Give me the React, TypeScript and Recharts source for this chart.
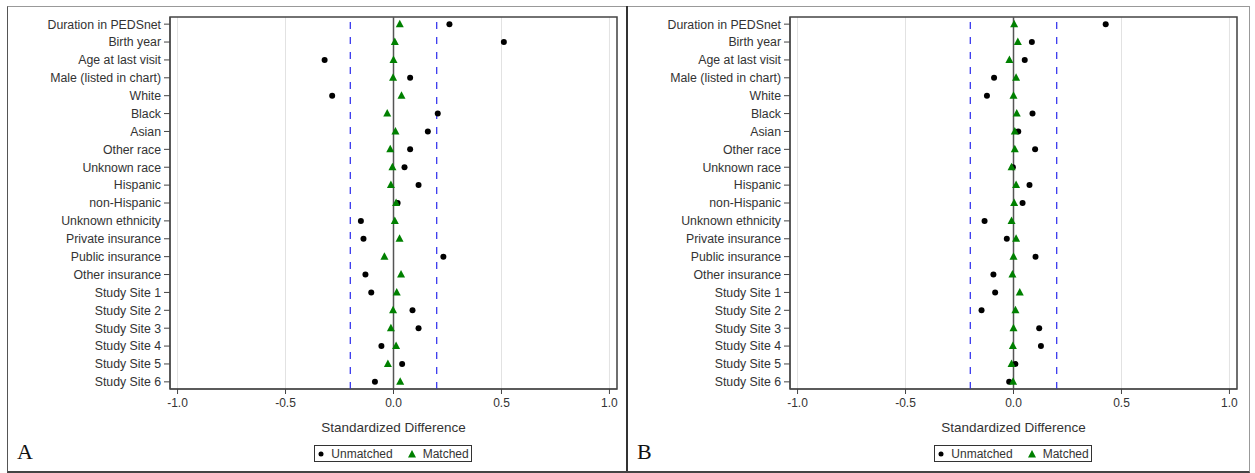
import React from 'react'
import {
  ScatterChart,
  Scatter,
  XAxis,
  YAxis,
  CartesianGrid,
  ReferenceLine,
  ReferenceArea,
} from 'recharts'

const categories = [
  'Duration in PEDSnet',
  'Birth year',
  'Age at last visit',
  'Male (listed in chart)',
  'White',
  'Black',
  'Asian',
  'Other race',
  'Unknown race',
  'Hispanic',
  'non-Hispanic',
  'Unknown ethnicity',
  'Private insurance',
  'Public insurance',
  'Other insurance',
  'Study Site 1',
  'Study Site 2',
  'Study Site 3',
  'Study Site 4',
  'Study Site 5',
  'Study Site 6',
]

// Panel A (before matching vs after)
const unmatchedA = [0.259, 0.511, -0.319, 0.077, -0.284, 0.205, 0.159, 0.077, 0.051, 0.116, 0.019, -0.151, -0.139, 0.231, -0.13, -0.103, 0.088, 0.116, -0.056, 0.04, -0.086]
const matchedA = [0.029, 0.006, 0.0, -0.002, 0.037, -0.029, 0.009, -0.015, -0.005, -0.012, 0.012, 0.006, 0.028, -0.042, 0.035, 0.015, -0.002, -0.012, 0.012, -0.026, 0.031]

// Panel B
const unmatchedB = [0.427, 0.085, 0.052, -0.09, -0.123, 0.088, 0.022, 0.1, -0.003, 0.074, 0.042, -0.134, -0.031, 0.102, -0.093, -0.085, -0.148, 0.119, 0.127, 0.009, -0.02]
const matchedB = [0.003, 0.02, -0.019, 0.012, 0.0, 0.015, 0.006, 0.006, -0.009, 0.012, 0.003, -0.009, 0.012, 0.0, -0.005, 0.029, 0.009, 0.0, -0.003, -0.009, -0.002]

const xTicks = [-1, -0.5, 0, 0.5, 1]
const threshold = 0.2

const FONT = '"Liberation Sans", Arial, sans-serif'
const TEXT = '#333'
const GREEN = '#008000'

const toRows = (vals: number[]) => vals.map((x, i) => ({ x, y: i }))

const Dot = (props: any) => {
  const { cx, cy } = props
  if (cx == null || cy == null) return null
  return <circle cx={cx} cy={cy} r={3} fill="#000" />
}

const Tri = (props: any) => {
  const { cx, cy } = props
  if (cx == null || cy == null) return null
  return <path d={`M${cx},${cy - 4.5} L${cx + 4},${cy + 3} L${cx - 4},${cy + 3} Z`} fill={GREEN} />
}

function Panel({ unmatched, matched, letter, left }: { unmatched: number[]; matched: number[]; letter: string; left: number }) {
  return (
    <div style={{ position: 'absolute', left, top: 0, width: 627, height: 473 }}>
      <ScatterChart width={627} height={473} margin={{ top: 17, right: 10, bottom: 54, left: 0 }}>
        <CartesianGrid horizontal={false} stroke="#e2e2e2" />
        <XAxis
          type="number"
          dataKey="x"
          domain={[-1.035, 1.035]}
          ticks={xTicks}
          allowDataOverflow
          tickFormatter={(v: number) => v.toFixed(1)}
          tick={{ fontSize: 12, fill: TEXT, fontFamily: FONT }}
          tickSize={5}
          tickMargin={4}
          stroke="#444"
          height={30}
        />
        <YAxis
          type="number"
          dataKey="y"
          domain={[-0.4, 20.4]}
          reversed
          allowDataOverflow
          ticks={categories.map((_, i) => i)}
          interval={0}
          tickFormatter={(i: number) => categories[i] ?? ''}
          tick={{ fontSize: 12.3, fill: TEXT, fontFamily: FONT }}
          tickSize={6}
          tickMargin={3}
          stroke="#444"
          width={170}
        />
        <ReferenceArea x1={-1.035} x2={1.035} y1={-0.4} y2={20.4} fill="none" stroke="#444" strokeWidth={1.5} ifOverflow="visible" />
        <ReferenceLine x={-threshold} stroke="#3a3aee" strokeDasharray="7 8" strokeWidth={1.3} />
        <ReferenceLine x={threshold} stroke="#3a3aee" strokeDasharray="7 8" strokeWidth={1.3} />
        <ReferenceLine x={0} stroke="#555" strokeWidth={1.5} />
        <Scatter name="Unmatched" data={toRows(unmatched)} shape={Dot} isAnimationActive={false} />
        <Scatter name="Matched" data={toRows(matched)} shape={Tri} isAnimationActive={false} />
      </ScatterChart>

      <div
        style={{
          position: 'absolute',
          left: 170,
          width: 447,
          top: 420,
          textAlign: 'center',
          fontFamily: FONT,
          fontSize: 13.5,
          color: TEXT,
          lineHeight: '16px',
        }}
      >
        Standardized Difference
      </div>

      {/* Legend */}
      <div
        style={{
          position: 'absolute',
          left: 314,
          top: 445,
          width: 156,
          height: 15,
          border: '1px solid #333',
          display: 'flex',
          alignItems: 'center',
          justifyContent: 'center',
          gap: 6,
          fontFamily: FONT,
          fontSize: 12,
          color: TEXT,
        }}
      >
        <svg width="8" height="8">
          <circle cx="4" cy="4" r="2.5" fill="#000" />
        </svg>
        <span style={{ marginRight: 8 }}>Unmatched</span>
        <svg width="10" height="10">
          <path d="M5,1 L9,8.5 L1,8.5 Z" fill={GREEN} />
        </svg>
        <span>Matched</span>
      </div>

      <div
        style={{
          position: 'absolute',
          left: left === 0 ? 17 : 17,
          top: 439,
          fontFamily: '"Liberation Serif", "Times New Roman", serif',
          fontSize: 22,
          lineHeight: '26px',
          color: '#111',
        }}
      >
        {letter}
      </div>
    </div>
  )
}

export default function App() {
  return (
    <div style={{ position: 'absolute', left: 0, top: 0, width: 1255, height: 473, background: '#fff' }}>
      <div
        style={{
          position: 'absolute',
          left: 7,
          top: 6,
          width: 1241,
          height: 464,
          borderTop: '1.5px solid #999',
          borderRight: '1.5px solid #999',
          borderLeft: '1.5px solid #555',
          borderBottom: '2px solid #444',
        }}
      />
      <div style={{ position: 'absolute', left: 626, top: 6, width: 2, height: 465, background: '#333' }} />
      <Panel unmatched={unmatchedA} matched={matchedA} letter="A" left={0} />
      <Panel unmatched={unmatchedB} matched={matchedB} letter="B" left={620} />
    </div>
  )
}
